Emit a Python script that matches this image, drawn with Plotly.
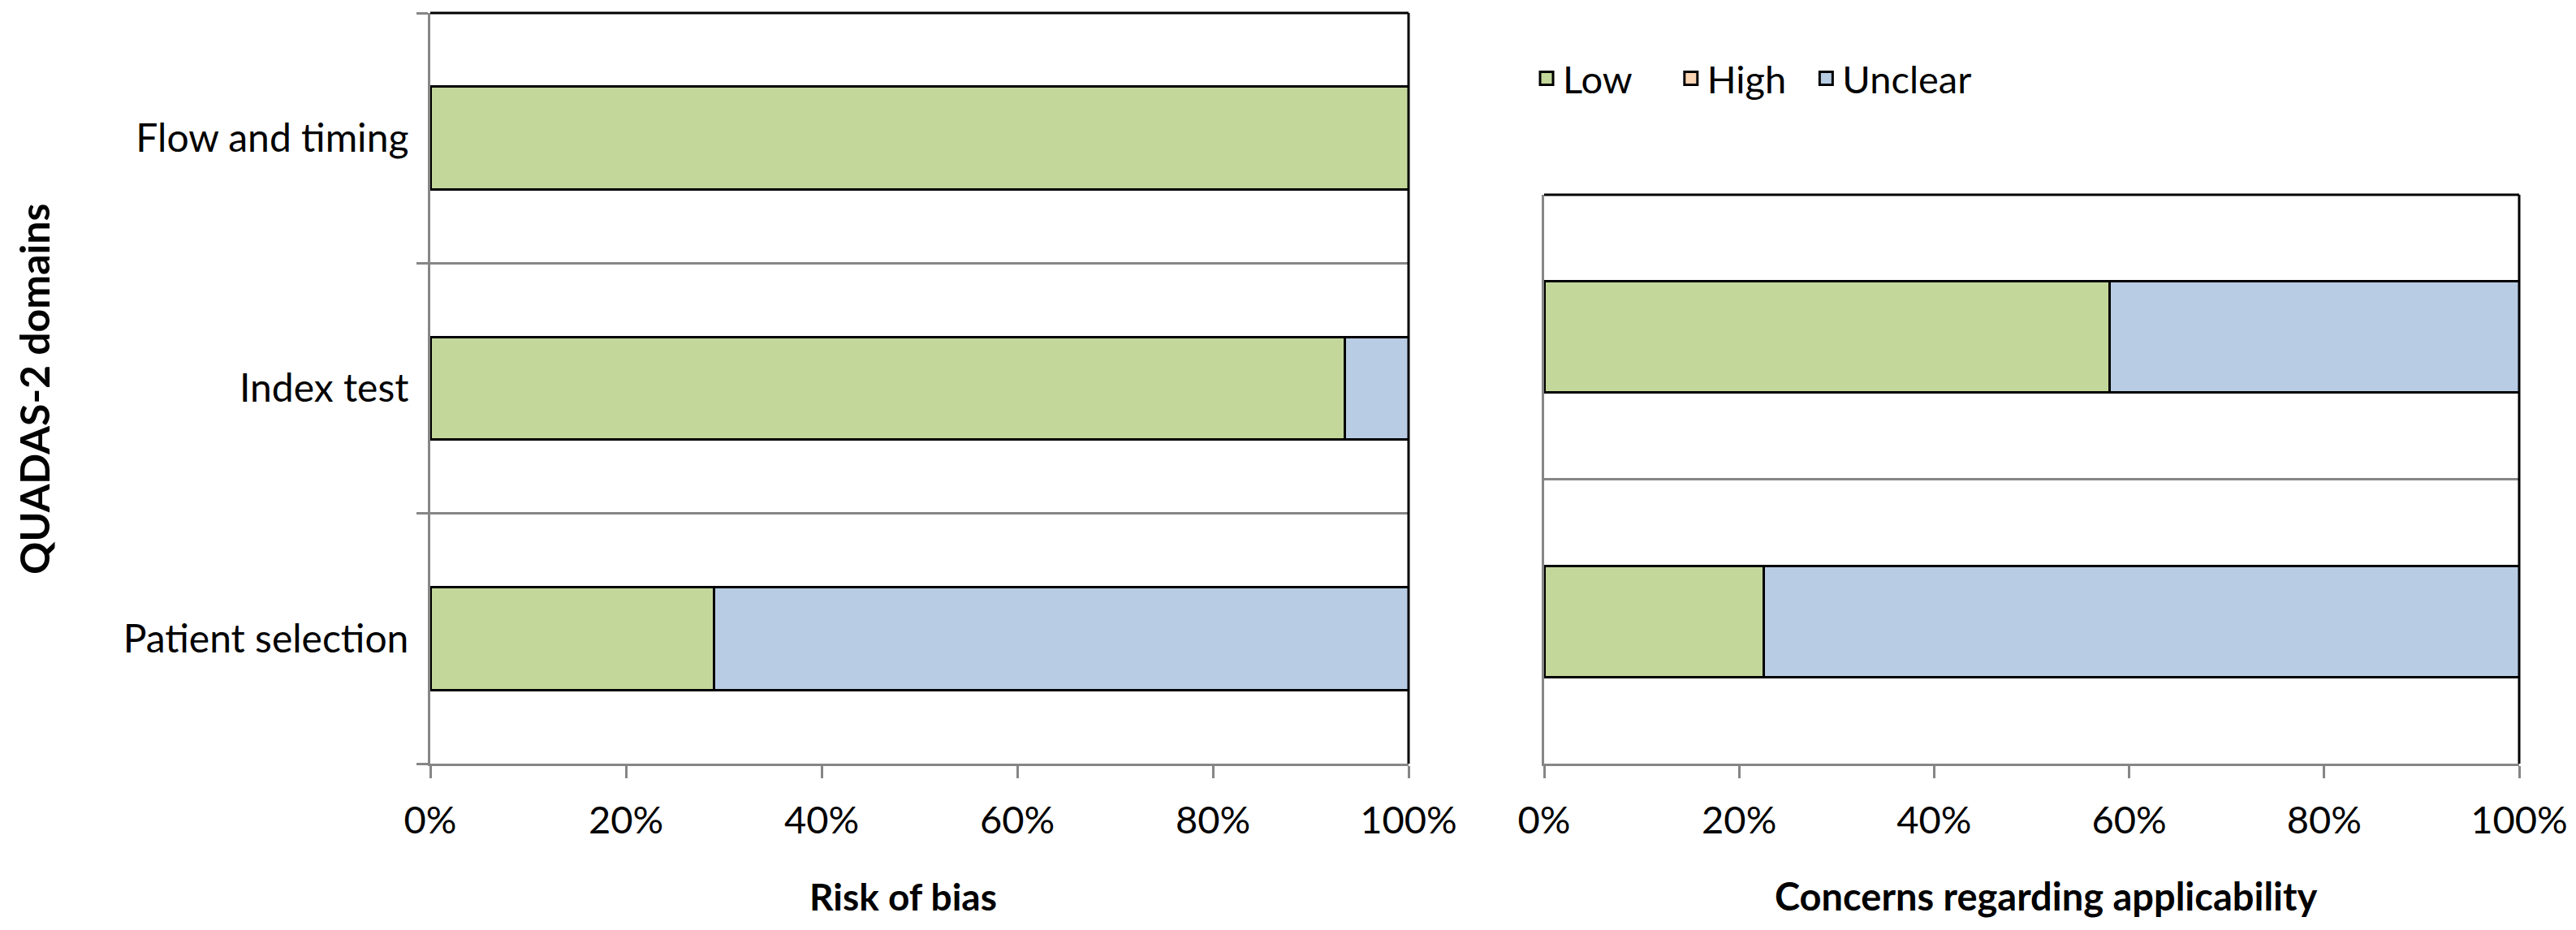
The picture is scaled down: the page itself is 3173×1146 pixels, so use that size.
import plotly.graph_objects as go

# ---- data ----
rob_domains = ["Patient selection", "Index test", "Flow and timing"]
rob_low = [0.29, 0.935, 1.0]
rob_high = [0.0, 0.0, 0.0]
rob_unclear = [0.71, 0.065, 0.0]

app_domains = ["Patient selection", "Index test"]
app_low = [0.225, 0.58]
app_high = [0.0, 0.0]
app_unclear = [0.775, 0.42]

levels = ["Low", "High", "Unclear"]
colors = {"Low": "#C4D79B", "High": "#FCD5B4", "Unclear": "#B8CCE4"}
# trailing padding in the legend to mimic the original spacing
legend_pad = {"Low": "\u00a0\u00a0\u00a0\u00a0", "High": "\u00a0\u00a0", "Unclear": ""}

x_ticks = [0, 0.2, 0.4, 0.6, 0.8, 1.0]
x_ticklabels = ["0%", "20%", "40%", "60%", "80%", "100%"]

W, H = 3173, 1146
OFF = 8  # page body margin
FONT = "Lato"
GRAY = "#868686"


def px(xr):
    return (xr - OFF) / W


def py(yr):
    return 1 - (yr - OFF) / H


fig = go.Figure()

rob_vals = {"Low": rob_low, "High": rob_high, "Unclear": rob_unclear}
app_vals = {"Low": app_low, "High": app_high, "Unclear": app_unclear}

for lev in levels:
    fig.add_trace(go.Bar(
        y=rob_domains, x=rob_vals[lev], orientation="h", name=lev,
        marker=dict(color=colors[lev], line=dict(color="black", width=3)),
        width=0.41, xaxis="x", yaxis="y", showlegend=False,
    ))
for lev in levels:
    fig.add_trace(go.Bar(
        y=app_domains, x=app_vals[lev], orientation="h", name=lev,
        marker=dict(color=colors[lev], line=dict(color="black", width=3)),
        width=0.39, xaxis="x2", yaxis="y2", showlegend=False,
    ))
# legend entries
for lev in levels:
    fig.add_trace(go.Scatter(
        x=[None], y=[None], mode="markers", name=lev + legend_pad[lev],
        marker=dict(symbol="square", size=16, color=colors[lev],
                    line=dict(color="black", width=3)),
        xaxis="x2", yaxis="y2", showlegend=True,
    ))

xl = (px(530), px(1735))
xr = (px(1902), px(3103))
yb = py(941)
yl_top = py(16)
yr_top = py(240)

xaxis_common = dict(
    range=[0, 1], tickmode="array", tickvals=x_ticks, ticktext=x_ticklabels,
    ticks="outside", ticklen=15, tickwidth=3, tickcolor=GRAY,
    showline=True, linecolor=GRAY, linewidth=3, showgrid=False,
    zeroline=False, automargin=False,
    tickfont=dict(family=FONT, size=47, color="black"),
    ticklabelstandoff=12, fixedrange=True,
)

fig.update_layout(
    width=W, height=H,
    margin=dict(l=0, r=0, t=0, b=0),
    paper_bgcolor="white", plot_bgcolor="white",
    barmode="stack",
    font=dict(family=FONT, color="black"),
    xaxis=dict(domain=list(xl), anchor="y", **xaxis_common),
    yaxis=dict(
        domain=[yb, yl_top], anchor="x", type="category",
        categoryorder="array", categoryarray=rob_domains,
        tickson="boundaries", ticks="outside", ticklen=14, tickwidth=3,
        tickcolor=GRAY, showline=True, linecolor=GRAY, linewidth=3,
        showgrid=True, gridcolor=GRAY, gridwidth=3, zeroline=False,
        automargin=False, ticklabelstandoff=14,
        tickfont=dict(family=FONT, size=48, color="black"), fixedrange=True,
    ),
    xaxis2=dict(domain=list(xr), anchor="y2", **xaxis_common),
    yaxis2=dict(
        domain=[yb, yr_top], anchor="x2", type="category",
        categoryorder="array", categoryarray=app_domains,
        tickson="boundaries", ticks="", showticklabels=False,
        showline=True, linecolor=GRAY, linewidth=3,
        showgrid=True, gridcolor=GRAY, gridwidth=3, zeroline=False,
        automargin=False, fixedrange=True,
    ),
    legend=dict(
        orientation="h", x=px(1885), xanchor="left", y=py(97),
        yanchor="middle", font=dict(family=FONT, size=47, color="black"),
        bgcolor="rgba(0,0,0,0)", traceorder="normal",
    ),
    showlegend=True,
    annotations=[
        dict(text="<b>Risk of bias</b>", xref="paper", yref="paper",
             x=px(1112), y=py(1104), xanchor="center", yanchor="middle",
             showarrow=False, font=dict(family=FONT, size=46, color="black")),
        dict(text="<b>Concerns regarding applicability</b>", xref="paper",
             yref="paper", x=px(2520), y=py(1104), xanchor="center",
             yanchor="middle", showarrow=False,
             font=dict(family=FONT, size=47, color="black")),
        dict(text="<b>QUADAS-2 domains</b>", xref="paper", yref="paper",
             x=px(42), y=py(480), xanchor="center", yanchor="middle",
             textangle=-90, showarrow=False,
             font=dict(family=FONT, size=50, color="black")),
    ],
    shapes=[
        # black plot-area border on top and right of each panel
        dict(type="line", xref="x domain", yref="y domain", x0=0, x1=1, y0=1, y1=1,
             line=dict(color="black", width=3)),
        dict(type="line", xref="x domain", yref="y domain", x0=1, x1=1, y0=0, y1=1,
             line=dict(color="black", width=3)),
        dict(type="line", xref="x2 domain", yref="y2 domain", x0=0, x1=1, y0=1, y1=1,
             line=dict(color="black", width=3)),
        dict(type="line", xref="x2 domain", yref="y2 domain", x0=1, x1=1, y0=0, y1=1,
             line=dict(color="black", width=3)),
    ],
)

fig.write_html("out.html")
